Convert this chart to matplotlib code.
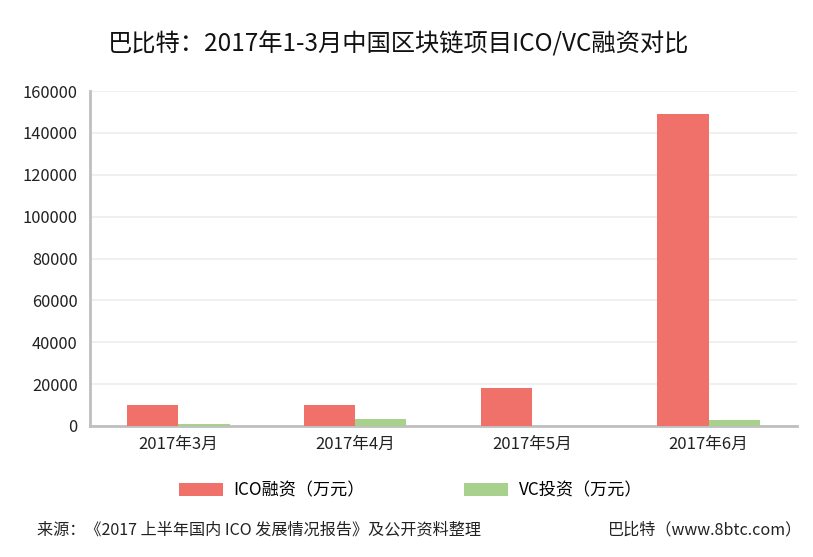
import matplotlib.pyplot as plt
import numpy as np

plt.rcParams['font.family'] = ['Noto Sans CJK SC', 'DejaVu Sans']

months = ['2017年3月', '2017年4月', '2017年5月', '2017年6月']
ico = [10000, 10000, 18000, 148800]
vc = [900, 3500, 0, 2700]

fig = plt.figure(figsize=(8.13, 5.57), dpi=100)
ax = fig.add_axes([0.1107, 0.2352, 0.8696, 0.6014])

x = np.arange(len(months))
w = 0.29
ax.bar(x - w / 2, ico, w, color='#f0706a', label='ICO融资（万元）', zorder=3)
ax.bar(x + w / 2, vc, w, color='#a9d18e', label='VC投资（万元）', zorder=3)

ax.set_xlim(-0.5, 3.5)
ax.set_ylim(0, 160000)
ax.set_yticks(range(0, 160001, 20000))
ax.set_xticks(x)
ax.set_xticklabels(months)
ax.yaxis.grid(True, color='#eeeeee', linewidth=1.2, zorder=0)
ax.tick_params(axis='both', length=0, colors='#222222')
ax.tick_params(axis='x', pad=7, labelsize=12)
ax.tick_params(axis='y', pad=9, labelsize=11.8)
for s in ['top', 'right']:
    ax.spines[s].set_visible(False)
for s in ['left', 'bottom']:
    ax.spines[s].set_color('#bfbfbf')
    ax.spines[s].set_linewidth(2)

fig.text(0.49, 0.92, '巴比特：2017年1-3月中国区块链项目ICO/VC融资对比',
         ha='center', va='center', fontsize=17.5, color='#111111')
fig.legend(loc='center', bbox_to_anchor=(0.505, 0.12), ncol=2, frameon=False,
           fontsize=12.3, handlelength=2.6, handleheight=0.8, handletextpad=0.6,
           columnspacing=5.8)
fig.text(0.045, 0.048, '来源：《2017 上半年国内 ICO 发展情况报告》及公开资料整理',
         ha='left', va='center', fontsize=11.6, color='#222222')
fig.text(0.987, 0.048, '巴比特（www.8btc.com）',
         ha='right', va='center', fontsize=11.6, color='#222222')

plt.savefig('out.png', dpi=100)
